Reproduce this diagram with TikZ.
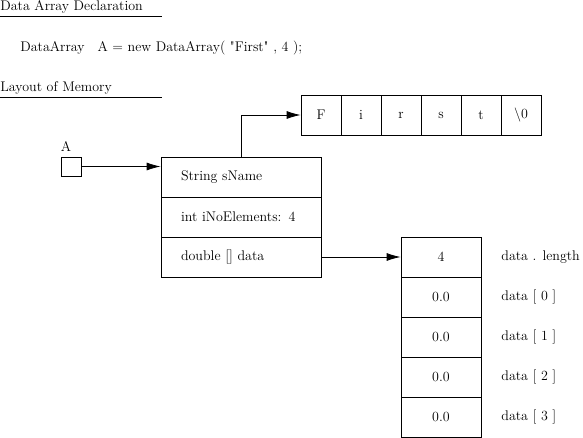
\documentclass[tikz,border=0pt]{standalone}
\usetikzlibrary{arrows.meta}
\begin{document}
\begin{tikzpicture}
  [x=1pt,y=-1pt,line width=0.8pt,every node/.style={font=\fontsize{14}{16}\selectfont}]
  \tikzstyle{head} = [anchor=base west,inner sep=0pt]
  \tikzstyle{cell} = [draw,minimum width=40pt,minimum height=40pt,inner sep=0pt]
  \tikzstyle{field} = [draw,text width=120pt,inner xsep=20pt,inner ysep=0pt,minimum height=40pt,align=left]
  \tikzstyle{slot} = [draw,minimum width=80pt,minimum height=40pt,inner sep=0pt]
  \tikzstyle{ptr} = [-{Latex[length=14pt,width=8pt]}]
  \useasboundingbox (0,0) rectangle (583,438);
  % headings
  \node[head] (h1) at (0,11) {Data Array Declaration};
  \draw ([yshift=-5pt]h1.base west) -- ++(162,0);
  \node[head] (decl) at (20,52) {DataArray\hspace{13pt}A = new DataArray( \textquotedbl First\textquotedbl{} , 4 );};
  \node[head] (h2) at (0,92) {Layout of Memory};
  \draw ([yshift=-5pt]h2.base west) -- ++(162,0);
  % reference variable
  \node[draw,minimum width=20pt,minimum height=19pt,inner sep=0pt] (A) at (71,166.5) {};
  \node[inner sep=0pt] (Aname) at (66,147) {A};
  % object
  \node[field] (f1) at (241,177) {String sName};
  \node[field] (f2) at (241,217) {int iNoElements: 4};
  \node[field] (f3) at (241,257) {double [] data};
  % string characters
  \foreach \i/\ch in {1/F,2/i,3/r,4/s,5/t,6/\textbackslash 0}
    \node[cell] (c\i) at (281+40*\i,115) {\ch};
  % data array
  \node[slot] (d0) at (441,257) {4};
  \node[anchor=west,inner sep=0pt] (l0) at (501,257) {data . length};
  \foreach \i/\y in {1/297,2/337,3/377,4/417}
   {\node[slot] (d\i) at (441,\y) {0.0};
    \pgfmathtruncatemacro\k{\i-1}
    \node[anchor=west,inner sep=0pt] (l\i) at (501,\y) {data [ \k\ ]};}
  % pointers
  \draw[ptr] (A.east) -- (A.east -| f1.west);
  \draw[ptr] (f1.north) |- (c1.west);
  \draw[ptr] (f3.east) -- (d0.west);
\end{tikzpicture}
\end{document}
